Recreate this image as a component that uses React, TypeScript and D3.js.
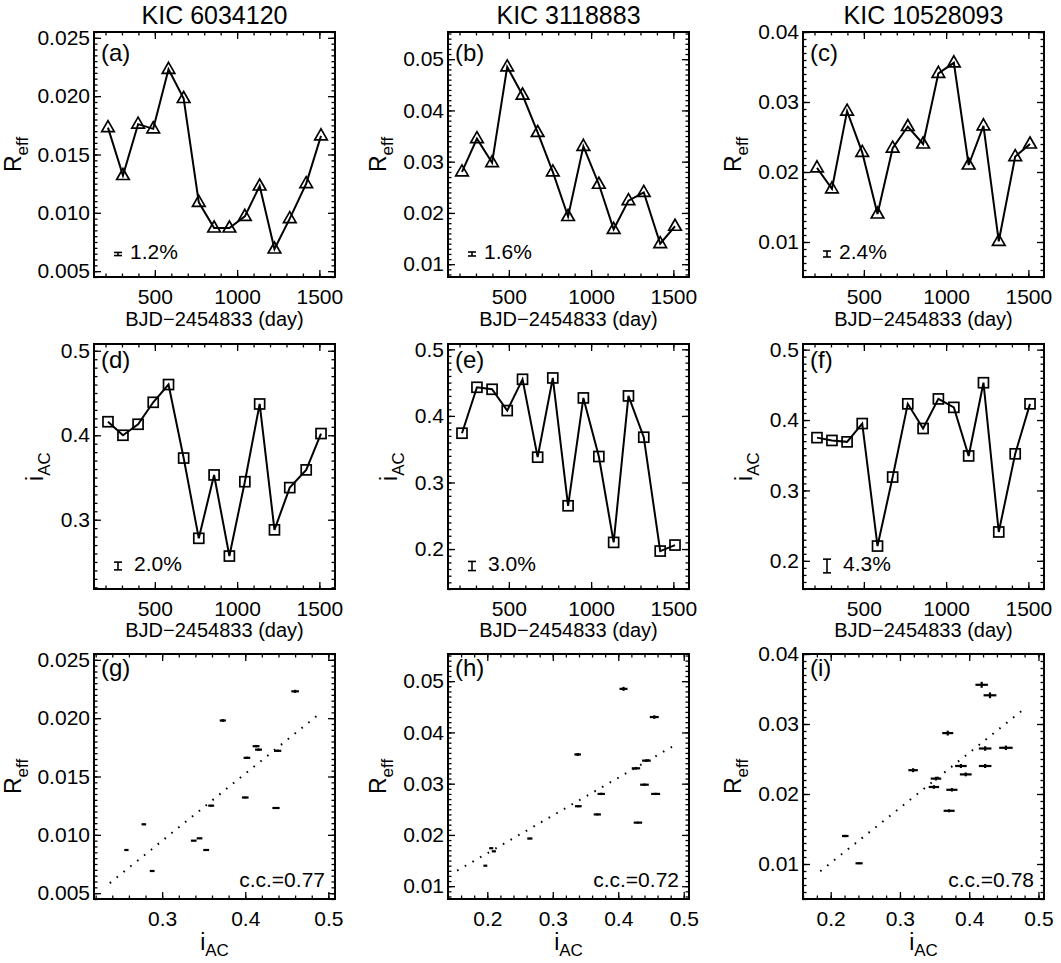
import React, { useEffect, useRef } from "react";
import * as d3 from "d3";

// Kepler quarter mid-times, BJD-2454833 (day)
const days = [215, 306, 398, 490, 583, 675, 767, 860, 953, 1047, 1137, 1227, 1320, 1420, 1510];

const stars = ["KIC 6034120", "KIC 3118883", "KIC 10528093"];

// effective ratio and activity index per quarter
const reff6034120 = [0.0173, 0.0132, 0.0176, 0.0172, 0.0223, 0.0198, 0.0109, 0.0087, 0.0087, 0.0097, 0.0123, 0.0069, 0.0095, 0.0125, 0.0166];
const iac6034120 = [0.416, 0.400, 0.413, 0.439, 0.460, 0.373, 0.278, 0.353, 0.257, 0.345, 0.437, 0.288, 0.338, 0.359, 0.402];

const reff3118883 = [0.0280, 0.0345, 0.0298, 0.0485, 0.0430, 0.0357, 0.0280, 0.0193, 0.0330, 0.0256, 0.0168, 0.0224, 0.0240, 0.0140, 0.0174];
const iac3118883 = [0.374, 0.443, 0.440, 0.408, 0.455, 0.338, 0.457, 0.265, 0.427, 0.339, 0.210, 0.430, 0.368, 0.197, 0.206];

const reff10528093 = [0.0206, 0.0176, 0.0287, 0.0228, 0.0140, 0.0234, 0.0265, 0.0240, 0.0341, 0.0356, 0.0210, 0.0266, 0.0101, 0.0222, 0.0240];
const iac10528093 = [0.375, 0.371, 0.369, 0.395, 0.221, 0.319, 0.423, 0.388, 0.430, 0.418, 0.349, 0.453, 0.241, 0.352, 0.423];

// relative errors (per cent)
const reffErr = [1.2, 1.6, 2.4];
const iacErr = [2.0, 3.0, 4.3];

const corrLabels = ["0.77", "0.72", "0.78"];
const fitFrom = [0.237, 0.154, 0.185];
const fitTo = [0.487, 0.488, 0.481];

const dayRange = [130, 1595];
const dayTicks = [500, 1000, 1500];
const reffRange = [[0.0045, 0.0255], [0.0075, 0.0553], [0.005, 0.04]];
const reffTicks = [
  [0.005, 0.01, 0.015, 0.02, 0.025],
  [0.01, 0.02, 0.03, 0.04, 0.05],
  [0.01, 0.02, 0.03, 0.04],
];
const reffMinorStep = [0.0005, 0.001, 0.001];
const reffFormat = [".3f", ".2f", ".2f"];
const iacRange = [[0.218, 0.508], [0.14, 0.508], [0.16, 0.508]];
const iacTicks = [0.2, 0.3, 0.4, 0.5];

const letters = [["a", "b", "c"], ["d", "e", "f"], ["g", "h", "i"]];

const W = 1061;
const H = 963;
const colLeft = [94, 448, 803];
const rowTop = [32, 344, 654];
const pw = 241;
const ph = 245;
const FONT = "'Liberation Sans', Arial, Helvetica, sans-serif";

const series = [
  { reff: reff6034120, iac: iac6034120 },
  { reff: reff3118883, iac: iac3118883 },
  { reff: reff10528093, iac: iac10528093 },
];

function minorValues(domain: number[], step: number) {
  const lo = Math.ceil(domain[0] / step - 1e-9);
  const hi = Math.floor(domain[1] / step + 1e-9);
  return d3.range(lo, hi + 1).map((k) => +(k * step).toFixed(6));
}

function inside(ticks: number[], domain: number[]) {
  return ticks.filter((t) => t >= domain[0] - 1e-9 && t <= domain[1] + 1e-9);
}

// box with inward ticks on all four sides, labels on left and bottom
function drawAxes(g: any, x: any, y: any, o: any) {
  const style = (s: any) => {
    s.select(".domain").remove();
    s.selectAll("line").attr("stroke", "#000").attr("stroke-width", 1.3);
    s.attr("font-family", FONT).attr("font-size", 21);
    s.selectAll("text").attr("fill", "#000");
  };
  const none = () => "";
  g.append("g")
    .attr("transform", `translate(0,${ph})`)
    .call(d3.axisBottom(x).tickValues(o.xTicks).tickFormat(o.xFmt).tickSize(-7).tickPadding(12))
    .call(style);
  g.append("g")
    .attr("transform", `translate(0,${ph})`)
    .call(d3.axisBottom(x).tickValues(o.xMinor).tickFormat(none).tickSize(-3.5))
    .call(style);
  g.append("g").call(d3.axisTop(x).tickValues(o.xTicks).tickFormat(none).tickSize(-7)).call(style);
  g.append("g").call(d3.axisTop(x).tickValues(o.xMinor).tickFormat(none).tickSize(-3.5)).call(style);

  g.append("g")
    .call(d3.axisLeft(y).tickValues(o.yTicks).tickFormat(o.yFmt).tickSize(-7).tickPadding(4))
    .call(style);
  g.append("g").call(d3.axisLeft(y).tickValues(o.yMinor).tickFormat(none).tickSize(-3.5)).call(style);
  g.append("g")
    .attr("transform", `translate(${pw},0)`)
    .call(d3.axisRight(y).tickValues(o.yTicks).tickFormat(none).tickSize(-7))
    .call(style);
  g.append("g")
    .attr("transform", `translate(${pw},0)`)
    .call(d3.axisRight(y).tickValues(o.yMinor).tickFormat(none).tickSize(-3.5))
    .call(style);

  g.append("rect")
    .attr("width", pw)
    .attr("height", ph)
    .attr("fill", "none")
    .attr("stroke", "#000")
    .attr("stroke-width", 2);
}

// rotated label with a subscript, e.g. R_eff
function yLabel(g: any, dx: number, main: string, sub: string) {
  const t = g
    .append("text")
    .attr("transform", `translate(${-dx},${ph / 2}) rotate(-90)`)
    .attr("text-anchor", "middle")
    .attr("font-family", FONT)
    .attr("font-size", 23);
  t.append("tspan").text(main);
  t.append("tspan").attr("font-size", 17).attr("dy", 7).text(sub);
}

function panelLetter(g: any, letter: string, base: number) {
  g.append("text")
    .attr("x", 7)
    .attr("y", base)
    .attr("font-family", FONT)
    .attr("font-size", 24)
    .text(`(${letter})`);
}

// sample error bar with percentage
function errorKey(g: any, y: any, values: number[], pct: number, textX: number) {
  const len = Math.abs(y(0) - y((pct / 100) * d3.max(values)!));
  const cx = 24;
  const cy = ph - 23;
  const k = g.append("g").attr("stroke", "#000").attr("stroke-width", 1.6);
  k.append("line").attr("x1", cx).attr("x2", cx).attr("y1", cy - len / 2).attr("y2", cy + len / 2);
  k.append("line").attr("x1", cx - 4).attr("x2", cx + 4).attr("y1", cy - len / 2).attr("y2", cy - len / 2);
  k.append("line").attr("x1", cx - 4).attr("x2", cx + 4).attr("y1", cy + len / 2).attr("y2", cy + len / 2);
  g.append("text")
    .attr("x", textX)
    .attr("y", ph - 18)
    .attr("font-family", FONT)
    .attr("font-size", 21)
    .text(`${pct.toFixed(1)}%`);
}

// open triangle centred on the point
const triPath = "M0,-7L6.3,4L-6.3,4Z";

const App = () => {
  const svgRef = useRef<SVGSVGElement>(null);

  useEffect(() => {
    const svg = d3.select(svgRef.current);
    svg.selectAll("*").remove();
    svg.append("rect").attr("width", W).attr("height", H).attr("fill", "#fff");

    const x = d3.scaleLinear().domain(dayRange).range([0, pw]);
    const dayMinor = minorValues(dayRange, 100);

    series.forEach((s, c) => {
      const yR = d3.scaleLinear().domain(reffRange[c]).range([ph, 0]);
      const yI = d3.scaleLinear().domain(iacRange[c]).range([ph, 0]);
      const rFmt = d3.format(reffFormat[c]);
      const iFmt = d3.format(".1f");
      const rTicks = inside(reffTicks[c], reffRange[c]);
      const iTicks = inside(iacTicks, iacRange[c]);
      const rMinor = minorValues(reffRange[c], reffMinorStep[c]);
      const iMinorY = minorValues(iacRange[c], 0.01);
      const iMinorX = minorValues(iacRange[c], 0.02);
      const rLabelDx = c === 0 ? 73 : 62;

      // star name
      svg
        .append("text")
        .attr("x", colLeft[c] + pw / 2)
        .attr("y", 24)
        .attr("text-anchor", "middle")
        .attr("font-family", FONT)
        .attr("font-size", 25)
        .text(stars[c]);

      // --- R_eff against time
      const g1 = svg.append("g").attr("transform", `translate(${colLeft[c]},${rowTop[0]})`);
      drawAxes(g1, x, yR, {
        xTicks: dayTicks,
        xMinor: dayMinor,
        xFmt: d3.format("d"),
        yTicks: rTicks,
        yMinor: rMinor,
        yFmt: rFmt,
      });
      const lineR = d3
        .line<number>()
        .x((_, i) => x(days[i]))
        .y((d) => yR(d));
      g1.append("path")
        .datum(s.reff)
        .attr("d", lineR)
        .attr("fill", "none")
        .attr("stroke", "#000")
        .attr("stroke-width", 2);
      g1.selectAll("path.tri")
        .data(s.reff)
        .join("path")
        .attr("class", "tri")
        .attr("d", triPath)
        .attr("transform", (d, i) => `translate(${x(days[i])},${yR(d)})`)
        .attr("fill", "none")
        .attr("stroke", "#000")
        .attr("stroke-width", 1.7);
      panelLetter(g1, letters[0][c], 29);
      errorKey(g1, yR, s.reff, reffErr[c], 36);
      yLabel(g1, rLabelDx, "R", "eff");
      g1.append("text")
        .attr("x", pw / 2)
        .attr("y", ph + 49)
        .attr("text-anchor", "middle")
        .attr("font-family", FONT)
        .attr("font-size", 20)
        .text("BJD\u22122454833 (day)");

      // --- i_AC against time
      const g2 = svg.append("g").attr("transform", `translate(${colLeft[c]},${rowTop[1]})`);
      drawAxes(g2, x, yI, {
        xTicks: dayTicks,
        xMinor: dayMinor,
        xFmt: d3.format("d"),
        yTicks: iTicks,
        yMinor: iMinorY,
        yFmt: iFmt,
      });
      const lineI = d3
        .line<number>()
        .x((_, i) => x(days[i]))
        .y((d) => yI(d));
      g2.append("path")
        .datum(s.iac)
        .attr("d", lineI)
        .attr("fill", "none")
        .attr("stroke", "#000")
        .attr("stroke-width", 2);
      g2.selectAll("rect.sq")
        .data(s.iac)
        .join("rect")
        .attr("class", "sq")
        .attr("x", (_, i) => x(days[i]) - 5)
        .attr("y", (d) => yI(d) - 5)
        .attr("width", 10)
        .attr("height", 10)
        .attr("fill", "none")
        .attr("stroke", "#000")
        .attr("stroke-width", 1.7);
      panelLetter(g2, letters[1][c], 24);
      errorKey(g2, yI, s.iac, iacErr[c], 40);
      yLabel(g2, 51, "i", "AC");
      g2.append("text")
        .attr("x", pw / 2)
        .attr("y", ph + 48)
        .attr("text-anchor", "middle")
        .attr("font-family", FONT)
        .attr("font-size", 20)
        .text("BJD\u22122454833 (day)");

      // --- R_eff against i_AC
      const xI = d3.scaleLinear().domain(iacRange[c]).range([0, pw]);
      const g3 = svg.append("g").attr("transform", `translate(${colLeft[c]},${rowTop[2]})`);
      drawAxes(g3, xI, yR, {
        xTicks: iTicks,
        xMinor: iMinorX,
        xFmt: iFmt,
        yTicks: rTicks,
        yMinor: rMinor,
        yFmt: rFmt,
      });

      // least-squares line
      const mi = d3.mean(s.iac)!;
      const mr = d3.mean(s.reff)!;
      const sxy = d3.sum(s.iac, (v, i) => (v - mi) * (s.reff[i] - mr));
      const sxx = d3.sum(s.iac, (v) => (v - mi) * (v - mi));
      const slope = sxy / sxx;
      const fit = (v: number) => mr + slope * (v - mi);
      g3.append("line")
        .attr("x1", xI(fitFrom[c]))
        .attr("y1", yR(fit(fitFrom[c])))
        .attr("x2", xI(fitTo[c]))
        .attr("y2", yR(fit(fitTo[c])))
        .attr("stroke", "#000")
        .attr("stroke-width", 2)
        .attr("stroke-dasharray", "1.6 7.2");

      const bars = g3.append("g").attr("stroke", "#000").attr("stroke-width", 2.2);
      s.iac.forEach((iv, k) => {
        const rv = s.reff[k];
        const hi = (iv * iacErr[c]) / 200;
        const hr = (rv * reffErr[c]) / 200;
        bars.append("line")
          .attr("x1", xI(iv - hi))
          .attr("x2", xI(iv + hi))
          .attr("y1", yR(rv))
          .attr("y2", yR(rv));
        bars.append("line")
          .attr("x1", xI(iv))
          .attr("x2", xI(iv))
          .attr("y1", yR(rv - hr))
          .attr("y2", yR(rv + hr));
      });

      panelLetter(g3, letters[2][c], 22);
      g3.append("text")
        .attr("x", pw - 10)
        .attr("y", ph - 12)
        .attr("text-anchor", "end")
        .attr("font-family", FONT)
        .attr("font-size", 21)
        .text(`c.c.=${corrLabels[c]}`);
      yLabel(g3, rLabelDx, "R", "eff");
      const xl = g3
        .append("text")
        .attr("x", pw / 2)
        .attr("y", ph + 51)
        .attr("text-anchor", "middle")
        .attr("font-family", FONT)
        .attr("font-size", 23);
      xl.append("tspan").text("i");
      xl.append("tspan").attr("font-size", 17).attr("dy", 6).text("AC");
    });
  }, []);

  return (
    <svg
      ref={svgRef}
      width={W}
      height={H}
      style={{ position: "absolute", left: 0, top: 0 }}
    ></svg>
  );
};

export default App;
